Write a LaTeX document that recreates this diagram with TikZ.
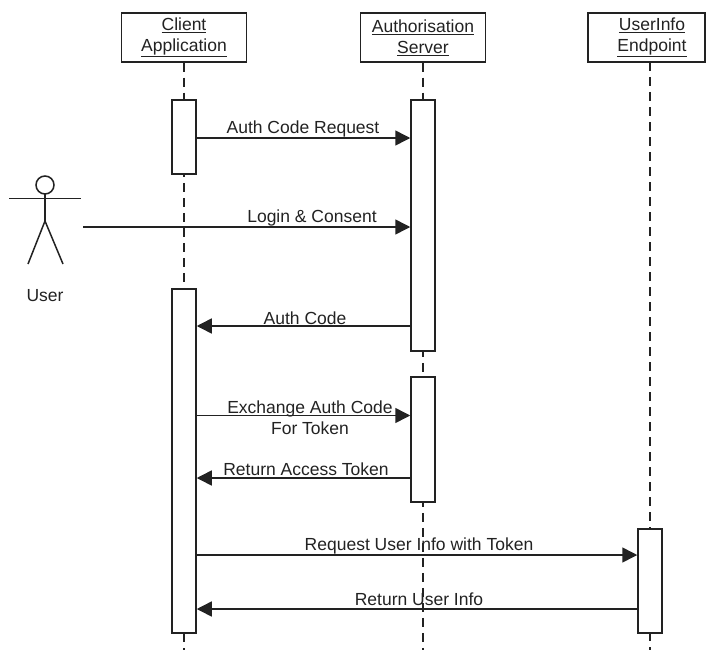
\documentclass[tikz,border=0pt]{standalone}
\usepackage{fontspec}
\setmainfont{Liberation Sans}
\usetikzlibrary{arrows.meta}
\definecolor{ink}{HTML}{222222}
\tikzset{
  lw/.style={line width=1.5pt, draw=ink},
  header/.style={lw, fill=white, minimum width=125pt, minimum height=49pt, inner sep=0pt, align=center, font=\fontsize{17.5}{21}\selectfont, text=ink},
  act/.style={lw, fill=white, minimum width=24pt, inner sep=0pt},
  life/.style={lw, dash pattern=on 9pt off 6pt},
  msg/.style={lw, -{Triangle[length=15pt,width=15pt]}},
  lbl/.style={font=\fontsize{17.5}{21}\selectfont, text=ink, align=center, inner sep=0pt},
}
\begin{document}
\begin{tikzpicture}[x=1pt,y=-1pt]
\useasboundingbox (0,0) rectangle (708,650);
% headers
\node[header] (ca) at (184,37.5) {\underline{Client}\\\underline{Application}};
\node[header] (as) at (423,37.5) {\underline{Authorisation}\\\underline{Server}};
\node[header, minimum width=117pt] (ue) at (646.5,37.5) {};
\node[lbl] (uel) at (652,37.5) {\underline{UserInfo}\\\underline{Endpoint}};
% lifeline ends
\coordinate (cae) at (184,650);
\coordinate (ase) at (423,650);
\coordinate (uee) at (650,650);
\draw[life] (ca.south) -- (cae);
\draw[life] (as.south) -- (ase);
\draw[life] (650,62) -- (uee);
% activations
\node[act, minimum height=74pt]  (ca1) at (184,137)   {};
\node[act, minimum height=251pt] (as1) at (423,225.5) {};
\node[act, minimum height=344pt] (ca2) at (184,461)   {};
\node[act, minimum height=125pt] (as2) at (423,439.5) {};
\node[act, minimum height=104pt] (ue1) at (650,581)   {};
% actor
\draw[lw] (45,185) circle (9);
\draw[lw] (9,198.5) -- (81,198.5);
\draw[lw] (45,194) -- (45,221);
\draw[lw] (28,264) -- (45,221) -- (63,264);
\node[lbl] (user) at (45,296) {User};
\coordinate (ustart) at (83,227);
% messages
\draw[msg] (ca1.east |- 0,138) -- (as1.west |- 0,138);
\node[lbl] (m1) at (303,129) {Auth Code Request};
\draw[msg] (ustart) -- (as1.west |- ustart);
\node[lbl] (m2) at (312,218) {Login \& Consent};
\draw[msg] (as1.west |- 0,326) -- (ca2.east |- 0,326);
\node[lbl] (m3) at (305,318) {Auth Code};
\draw[msg] (ca2.east |- 0,415.5) -- (as2.west |- 0,415.5);
\node[lbl] (m4) at (310,417.5) {Exchange Auth Code\\For Token};
\draw[msg] (as2.west |- 0,478) -- (ca2.east |- 0,478);
\node[lbl] (m5) at (306,469) {Return Access Token};
\draw[msg] (ca2.east |- 0,555) -- (ue1.west |- 0,555);
\node[lbl] (m6) at (419,546) {Request User Info with Token};
\draw[msg] (ue1.west |- 0,609) -- (ca2.east |- 0,609);
\node[lbl] (m7) at (419,599) {Return User Info};
\end{tikzpicture}
\end{document}
